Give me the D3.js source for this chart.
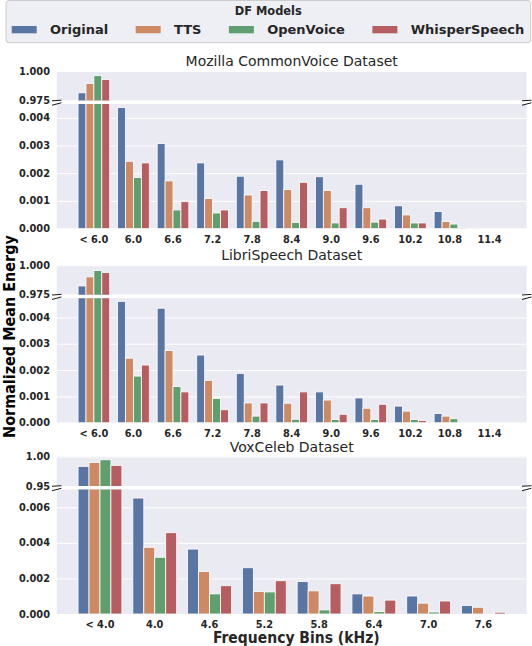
<!DOCTYPE html>
<meta charset="utf-8">
<script src="https://d3js.org/d3.v7.min.js"></script>
<style>
body { margin: 0; background: white; }
svg { font-family: 'DejaVu Sans'; }
</style>
<body>
<div id="chart"></div>
<script>
// ---- data ----
const models = ["Original", "TTS", "OpenVoice", "WhisperSpeech"];
const modelColors = ["#5975a4", "#cc8963", "#5f9e6e", "#b55d60"];

const binsSpeech = ["< 6.0", "6.0", "6.6", "7.2", "7.8", "8.4", "9.0", "9.6", "10.2", "10.8", "11.4"];
const binsVox = ["< 4.0", "4.0", "4.6", "5.2", "5.8", "6.4", "7.0", "7.6"];

// one row per model, one column per bin
const commonVoiceValues = [
  [0.9815, 0.00437, 0.00307, 0.00237, 0.00189, 0.00248, 0.00187, 0.00160, 0.00082, 0.00061, 0.00001],
  [0.9895, 0.00243, 0.00172, 0.00108, 0.00121, 0.00141, 0.00137, 0.00075, 0.00049, 0.00025, 0.000005],
  [0.9960, 0.00184, 0.00067, 0.00056, 0.00026, 0.00022, 0.00020, 0.00023, 0.00020, 0.00016, 0.000003],
  [0.9928, 0.00237, 0.00097, 0.00067, 0.00137, 0.00167, 0.00075, 0.00034, 0.00020, 0.00002, 0.000002]
];
const libriSpeechValues = [
  [0.9824, 0.00461, 0.00435, 0.00257, 0.00187, 0.00143, 0.00117, 0.00094, 0.00063, 0.00035, 0.00001],
  [0.9901, 0.00245, 0.00274, 0.00161, 0.00075, 0.00074, 0.00086, 0.00055, 0.00044, 0.00025, 0.000005],
  [0.9955, 0.00177, 0.00137, 0.00092, 0.00025, 0.00013, 0.00012, 0.00012, 0.00012, 0.00015, 0.000003],
  [0.9937, 0.00219, 0.00117, 0.00049, 0.00075, 0.00117, 0.00032, 0.00070, 0.00008, 0.00001, 0.000002]
];
const voxCelebValues = [
  [0.9833, 0.00652, 0.00365, 0.00260, 0.00182, 0.00113, 0.00101, 0.00048],
  [0.9900, 0.00375, 0.00239, 0.00126, 0.00130, 0.00101, 0.00061, 0.00038],
  [0.9944, 0.00319, 0.00113, 0.00124, 0.00023, 0.00013, 0.00011, 0.00001],
  [0.9850, 0.00457, 0.00159, 0.00187, 0.00170, 0.00078, 0.00073, 0.00010]
];

const panelTitles = ["Mozilla CommonVoice Dataset", "LibriSpeech Dataset", "VoxCeleb Dataset"];
const upperTicksSpeech = [0.975, 1.0];
const upperTicksVox = [0.95, 1.0];
const lowerTicksSpeech = [0, 0.001, 0.002, 0.003, 0.004];
const lowerTicksVox = [0, 0.002, 0.004, 0.006];

// ---- layout ----
const W = 532, H = 646;
const L = 56.7, R = 526.7;
const upperH = 29.5, gapH = 3.5, lowerH = 124.5;
const panelTops = [71, 265.2, 456.5];
const bgColor = "#eaeaf2", textColor = "#262626";

const panels = [
  {title: panelTitles[0], bins: binsSpeech, values: commonVoiceValues,
   upperTicks: upperTicksSpeech, upperFmt: ".3f", lowerMax: 0.0045, lowerTicks: lowerTicksSpeech},
  {title: panelTitles[1], bins: binsSpeech, values: libriSpeechValues,
   upperTicks: upperTicksSpeech, upperFmt: ".3f", lowerMax: 0.00473, lowerTicks: lowerTicksSpeech},
  {title: panelTitles[2], bins: binsVox, values: voxCelebValues,
   upperTicks: upperTicksVox, upperFmt: ".2f", lowerMax: 0.0070, lowerTicks: lowerTicksVox}
];

const svg = d3.select("#chart").append("svg")
    .attr("width", W)
    .attr("height", H);
const defs = svg.append("defs");

function styleTicks(g) {
  g.attr("font-family", null).attr("font-size", null);
  g.select(".domain").remove();
  g.selectAll(".tick line").attr("stroke", "white").attr("stroke-width", 1);
  g.selectAll(".tick text")
    .attr("fill", textColor)
    .style("font-family", "'DejaVu Sans'")
    .style("font-size", "9.8px")
    .style("font-weight", "bold");
}

panels.forEach(function(p, pi) {
  const upperTop = panelTops[pi];
  const upperBot = upperTop + upperH;
  const lowerTop = upperBot + gapH;
  const lowerBot = lowerTop + lowerH;
  const n = p.bins.length;

  var x0 = d3.scaleBand()
      .domain(p.bins)
      .range([L, R])
      .paddingInner(0.2)
      .paddingOuter(0.05 * (n - 0.2));
  var x1 = d3.scaleBand()
      .domain(models)
      .range([0, x0.bandwidth()]);

  var yU = d3.scaleLinear().domain([p.upperTicks[0], p.upperTicks[1]]).range([upperBot, upperTop]);
  var yL = d3.scaleLinear().domain([0, p.lowerMax]).range([lowerBot, lowerTop]);

  // clip paths
  defs.append("clipPath").attr("id", "clipU" + pi)
    .append("rect").attr("x", L).attr("y", upperTop).attr("width", R - L).attr("height", upperH);
  defs.append("clipPath").attr("id", "clipL" + pi)
    .append("rect").attr("x", L).attr("y", lowerTop).attr("width", R - L).attr("height", lowerH);

  // backgrounds
  svg.append("rect").attr("x", L).attr("y", upperTop).attr("width", R - L).attr("height", upperH).attr("fill", bgColor);
  svg.append("rect").attr("x", L).attr("y", lowerTop).attr("width", R - L).attr("height", lowerH).attr("fill", bgColor);

  // y axes with grid
  svg.append("g")
      .attr("transform", "translate(" + L + ",0)")
      .call(d3.axisLeft(yU).tickValues(p.upperTicks).tickFormat(d3.format(p.upperFmt))
            .tickSize(-(R - L)).tickPadding(6.7))
      .call(styleTicks);
  svg.append("g")
      .attr("transform", "translate(" + L + ",0)")
      .call(d3.axisLeft(yL).tickValues(p.lowerTicks).tickFormat(d3.format(".3f"))
            .tickSize(-(R - L)).tickPadding(6.7))
      .call(styleTicks);

  // flatten bars
  var bars = [];
  p.bins.forEach(function(b, i) {
    models.forEach(function(m, j) {
      bars.push({bin: b, model: m, color: modelColors[j], value: p.values[j][i]});
    });
  });

  // lower bars
  svg.append("g")
      .attr("clip-path", "url(#clipL" + pi + ")")
    .selectAll("rect")
    .data(bars)
    .enter()
    .append("rect")
      .attr("x", d => x0(d.bin) + x1(d.model))
      .attr("width", x1.bandwidth())
      .attr("y", d => yL(Math.min(d.value, p.lowerMax * 1.05)))
      .attr("height", d => lowerBot - yL(Math.min(d.value, p.lowerMax * 1.05)))
      .attr("fill", d => d.color)
      .attr("stroke", "white")
      .attr("stroke-width", 0.8);

  // upper bars (only the ones reaching the broken range)
  svg.append("g")
      .attr("clip-path", "url(#clipU" + pi + ")")
    .selectAll("rect")
    .data(bars.filter(d => d.value > p.upperTicks[0]))
    .enter()
    .append("rect")
      .attr("x", d => x0(d.bin) + x1(d.model))
      .attr("width", x1.bandwidth())
      .attr("y", d => yU(d.value))
      .attr("height", d => upperBot + 2 - yU(d.value))
      .attr("fill", d => d.color)
      .attr("stroke", "white")
      .attr("stroke-width", 0.8);

  // x axis labels
  svg.append("g")
      .attr("transform", "translate(0," + lowerBot + ")")
      .call(d3.axisBottom(x0).tickSize(0).tickPadding(7.3))
      .call(styleTicks);

  // break marks
  var d = 0.01, dx = d * (R - L);
  var marks = [
    [L, upperBot, d * upperH], [R, upperBot, d * upperH],
    [L, lowerTop, d * lowerH], [R, lowerTop, d * lowerH]
  ];
  svg.append("g").selectAll("line")
    .data(marks)
    .enter()
    .append("line")
      .attr("x1", m => m[0] - dx)
      .attr("y1", m => m[1] + m[2])
      .attr("x2", m => m[0] + dx)
      .attr("y2", m => m[1] - m[2])
      .attr("stroke", "black")
      .attr("stroke-width", 0.9);

  // title
  svg.append("text")
      .attr("x", (L + R) / 2)
      .attr("y", upperTop - 5)
      .attr("text-anchor", "middle")
      .attr("fill", textColor)
      .style("font-size", "14px")
      .text(p.title);
});

// axis labels
svg.append("text")
    .attr("transform", "translate(14.5,336.5) rotate(-90)")
    .attr("text-anchor", "middle")
    .attr("fill", "black")
    .style("font-family", "'DejaVu Sans Condensed', 'DejaVu Sans'")
    .style("font-stretch", "condensed")
    .style("font-size", "16px")
    .style("font-weight", "bold")
    .text("Normalized Mean Energy");
svg.append("text")
    .attr("x", 296.3)
    .attr("y", 643.3)
    .attr("text-anchor", "middle")
    .attr("fill", textColor)
    .style("font-family", "'DejaVu Sans Condensed', 'DejaVu Sans'")
    .style("font-stretch", "condensed")
    .style("font-size", "15.5px")
    .style("font-weight", "bold")
    .text("Frequency Bins (kHz)");

// legend
var legend = svg.append("g");
legend.append("rect")
    .attr("x", 6).attr("y", 0.5)
    .attr("width", 524.7).attr("height", 42.2)
    .attr("rx", 3)
    .attr("fill", bgColor).attr("fill-opacity", 0.8)
    .attr("stroke", "#cccccc").attr("stroke-width", 1);
legend.append("text")
    .attr("x", 268.3).attr("y", 15.3)
    .attr("text-anchor", "middle")
    .attr("fill", textColor)
    .style("font-size", "11.4px")
    .style("font-weight", "bold")
    .text("DF Models");

var lx = 11.7;
models.forEach(function(m, j) {
  legend.append("rect")
      .attr("x", lx).attr("y", 26)
      .attr("width", 25).attr("height", 7.3)
      .attr("fill", modelColors[j]);
  var t = legend.append("text")
      .attr("x", lx + 25 + 13.3).attr("y", 33.8)
      .attr("fill", textColor)
      .style("font-size", "13px")
      .style("font-weight", "bold")
      .text(m);
  lx += 25 + 13.3 + t.node().getComputedTextLength() + 27.5;
});
</script>
</body>
